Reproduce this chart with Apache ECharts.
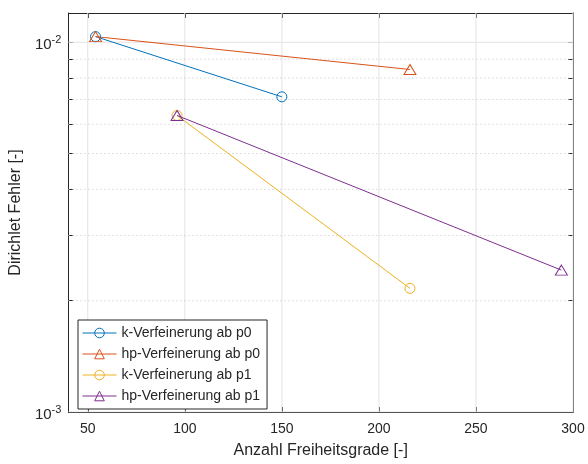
<!DOCTYPE html>
<html>
<head>
<meta charset="utf-8">
<script src="https://cdn.jsdelivr.net/npm/echarts@6/dist/echarts.min.js"></script>
<style>
  html, body { margin: 0; padding: 0; background: #fff; }
  #chart { width: 588px; height: 464px; }
</style>
</head>
<body>
<div id="chart"></div>
<script>
// data
var kP0X = [54, 150];
var kP0Y = [0.01036, 0.00712];
var hpP0X = [54, 216];
var hpP0Y = [0.01036, 0.00844];
var kP1X = [96, 216];
var kP1Y = [0.00634, 0.00216];
var hpP1X = [96, 294];
var hpP1Y = [0.00634, 0.00242];

var xTicks = [50, 100, 150, 200, 250, 300];
var yMajor = [0.001, 0.01];
var yMinor = [0.002, 0.003, 0.004, 0.005, 0.006, 0.007, 0.008, 0.009];
var xMin = 40, xMax = 300, yMin = 0.001, yMax = 0.012;

var names = ['k-Verfeinerung ab p0', 'hp-Verfeinerung ab p0', 'k-Verfeinerung ab p1', 'hp-Verfeinerung ab p1'];
var colors = ['#0072BD', '#D95319', '#EDB120', '#7E2F8E'];

function pairs(xs, ys) {
    return xs.map(function (x, i) { return [x, ys[i]]; });
}

var textColor = '#262626';
var font = 'Liberation Sans, Arial, sans-serif';

var chart = echarts.init(document.getElementById('chart'));

// grid lines as plain two-point line series
function gridSeries(data, color, type) {
    return {
        type: 'line',
        data: data,
        z: 1,
        silent: true,
        symbol: 'none',
        lineStyle: { color: color, width: 1, type: type },
        animation: false
    };
}
var grids = [];
xTicks.forEach(function (v) {
    grids.push(gridSeries([[v, yMin], [v, yMax]], '#e3e3e3', 'solid'));
});
yMajor.forEach(function (v) {
    grids.push(gridSeries([[xMin, v], [xMax, v]], '#e3e3e3', 'solid'));
});
yMinor.forEach(function (v) {
    grids.push(gridSeries([[xMin, v], [xMax, v]], '#c4c4c4', [1, 3]));
});

// hollow markers with a 1px outline (the built-in "empty" symbols force 2px)
function lineSeries(name, data, color, symbol, size) {
    return {
        name: name,
        type: 'line',
        data: data,
        z: 3,
        symbol: symbol,
        symbolSize: size,
        showAllSymbol: true,
        lineStyle: { color: color, width: 1 },
        itemStyle: { color: 'rgba(255,255,255,0)', borderColor: color, borderWidth: 1 },
        emphasis: { disabled: true },
        animation: false
    };
}

var yAxisBase = {
    type: 'log',
    logBase: 10,
    min: yMin,
    max: yMax,
    interval: 1,
    axisLine: { show: true, lineStyle: { color: textColor, width: 1 } },
    axisTick: { show: true, inside: true, length: 5, customValues: yMajor.concat(yMinor), lineStyle: { color: textColor } },
    splitLine: { show: false },
    minorTick: { show: false }
};

var xAxisBase = {
    type: 'value',
    min: xMin,
    max: xMax,
    axisLine: { show: true, onZero: false, lineStyle: { color: textColor, width: 1 } },
    axisTick: { show: true, inside: true, length: 5, customValues: xTicks, lineStyle: { color: textColor } },
    splitLine: { show: false }
};

var option = {
    backgroundColor: '#fff',
    animation: false,
    grid: { left: 67, right: 15, top: 13, bottom: 51, containLabel: false },
    legend: {
        data: names,
        orient: 'vertical',
        left: 78,
        top: 320,
        itemWidth: 34,
        itemHeight: 12,
        itemGap: 7,
        padding: [6, 7, 6, 4],
        backgroundColor: '#fff',
        borderColor: textColor,
        borderWidth: 1,
        borderRadius: 0,
        lineStyle: { width: 1 },
        itemStyle: { borderWidth: 1 },
        textStyle: { color: textColor, fontSize: 14, fontFamily: font },
        selectedMode: false
    },
    xAxis: [
        Object.assign({}, xAxisBase, {
            position: 'bottom',
            name: 'Anzahl Freiheitsgrade [-]',
            nameLocation: 'middle',
            nameGap: 31,
            nameTextStyle: { color: textColor, fontSize: 16, fontFamily: font },
            axisLabel: { customValues: xTicks, color: textColor, fontSize: 14, fontFamily: font, margin: 10 }
        }),
        Object.assign({}, xAxisBase, {
            position: 'top',
            axisLabel: { show: false }
        })
    ],
    yAxis: [
        Object.assign({}, yAxisBase, {
            position: 'left',
            name: 'Dirichlet Fehler [-]',
            nameLocation: 'middle',
            nameGap: 42,
            nameTextStyle: { color: textColor, fontSize: 16, fontFamily: font },
            axisLabel: {
                customValues: yMajor,
                color: textColor,
                fontFamily: font,
                margin: 7,
                formatter: function (v) {
                    var e = Math.round(Math.log10(v));
                    return '{b|10}{s|' + e + '}';
                },
                rich: {
                    b: { fontSize: 15, fontFamily: font, color: textColor, padding: [6, 0, 0, 0] },
                    s: { fontSize: 11, fontFamily: font, color: textColor, padding: [0, 0, 4, 0] }
                }
            }
        }),
        Object.assign({}, yAxisBase, {
            position: 'right',
            axisLabel: { show: false }
        })
    ],
    series: grids.concat([
        lineSeries(names[0], pairs(kP0X, kP0Y), colors[0], 'circle', 10),
        lineSeries(names[1], pairs(hpP0X, hpP0Y), colors[1], 'triangle', [12, 10]),
        lineSeries(names[2], pairs(kP1X, kP1Y), colors[2], 'circle', 10),
        lineSeries(names[3], pairs(hpP1X, hpP1Y), colors[3], 'triangle', [12, 10])
    ])
};

chart.setOption(option);
</script>
</body>
</html>
